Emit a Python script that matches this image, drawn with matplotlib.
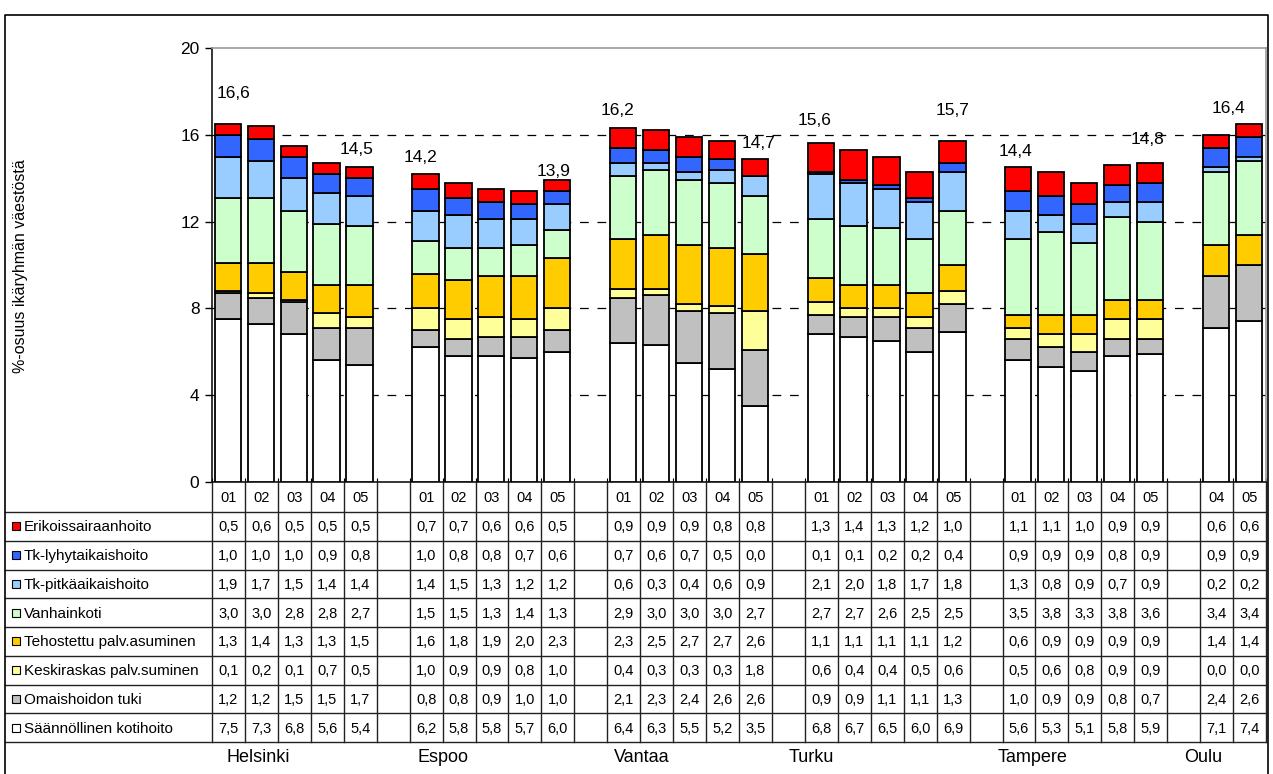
import matplotlib
matplotlib.use("Agg")
import matplotlib.pyplot as plt
from matplotlib.patches import Rectangle

plt.rcParams['font.family'] = ['Liberation Sans', 'DejaVu Sans']

# --- data -------------------------------------------------------------
cities = ["Helsinki", "Espoo", "Vantaa", "Turku", "Tampere", "Oulu"]
years = {
    "Helsinki": ["01", "02", "03", "04", "05"],
    "Espoo": ["01", "02", "03", "04", "05"],
    "Vantaa": ["01", "02", "03", "04", "05"],
    "Turku": ["01", "02", "03", "04", "05"],
    "Tampere": ["01", "02", "03", "04", "05"],
    "Oulu": ["04", "05"],
}

# series, top row of the table first
series_names = [
    "Erikoissairaanhoito",
    "Tk-lyhytaikaishoito",
    "Tk-pitkäaikaishoito",
    "Vanhainkoti",
    "Tehostettu palv.asuminen",
    "Keskiraskas palv.suminen",
    "Omaishoidon tuki",
    "Säännöllinen kotihoito",
]
series_colors = ["#FF0000", "#3366FF", "#99CCFF", "#CCFFCC",
                 "#FFCC00", "#FFFF99", "#C0C0C0", "#FFFFFF"]

erikois = {
    "Helsinki": [0.5, 0.6, 0.5, 0.5, 0.5],
    "Espoo": [0.7, 0.7, 0.6, 0.6, 0.5],
    "Vantaa": [0.9, 0.9, 0.9, 0.8, 0.8],
    "Turku": [1.3, 1.4, 1.3, 1.2, 1.0],
    "Tampere": [1.1, 1.1, 1.0, 0.9, 0.9],
    "Oulu": [0.6, 0.6],
}
tk_lyhyt = {
    "Helsinki": [1.0, 1.0, 1.0, 0.9, 0.8],
    "Espoo": [1.0, 0.8, 0.8, 0.7, 0.6],
    "Vantaa": [0.7, 0.6, 0.7, 0.5, 0.0],
    "Turku": [0.1, 0.1, 0.2, 0.2, 0.4],
    "Tampere": [0.9, 0.9, 0.9, 0.8, 0.9],
    "Oulu": [0.9, 0.9],
}
tk_pitka = {
    "Helsinki": [1.9, 1.7, 1.5, 1.4, 1.4],
    "Espoo": [1.4, 1.5, 1.3, 1.2, 1.2],
    "Vantaa": [0.6, 0.3, 0.4, 0.6, 0.9],
    "Turku": [2.1, 2.0, 1.8, 1.7, 1.8],
    "Tampere": [1.3, 0.8, 0.9, 0.7, 0.9],
    "Oulu": [0.2, 0.2],
}
vanhainkoti = {
    "Helsinki": [3.0, 3.0, 2.8, 2.8, 2.7],
    "Espoo": [1.5, 1.5, 1.3, 1.4, 1.3],
    "Vantaa": [2.9, 3.0, 3.0, 3.0, 2.7],
    "Turku": [2.7, 2.7, 2.6, 2.5, 2.5],
    "Tampere": [3.5, 3.8, 3.3, 3.8, 3.6],
    "Oulu": [3.4, 3.4],
}
tehostettu = {
    "Helsinki": [1.3, 1.4, 1.3, 1.3, 1.5],
    "Espoo": [1.6, 1.8, 1.9, 2.0, 2.3],
    "Vantaa": [2.3, 2.5, 2.7, 2.7, 2.6],
    "Turku": [1.1, 1.1, 1.1, 1.1, 1.2],
    "Tampere": [0.6, 0.9, 0.9, 0.9, 0.9],
    "Oulu": [1.4, 1.4],
}
keskiraskas = {
    "Helsinki": [0.1, 0.2, 0.1, 0.7, 0.5],
    "Espoo": [1.0, 0.9, 0.9, 0.8, 1.0],
    "Vantaa": [0.4, 0.3, 0.3, 0.3, 1.8],
    "Turku": [0.6, 0.4, 0.4, 0.5, 0.6],
    "Tampere": [0.5, 0.6, 0.8, 0.9, 0.9],
    "Oulu": [0.0, 0.0],
}
omaishoito = {
    "Helsinki": [1.2, 1.2, 1.5, 1.5, 1.7],
    "Espoo": [0.8, 0.8, 0.9, 1.0, 1.0],
    "Vantaa": [2.1, 2.3, 2.4, 2.6, 2.6],
    "Turku": [0.9, 0.9, 1.1, 1.1, 1.3],
    "Tampere": [1.0, 0.9, 0.9, 0.8, 0.7],
    "Oulu": [2.4, 2.6],
}
kotihoito = {
    "Helsinki": [7.5, 7.3, 6.8, 5.6, 5.4],
    "Espoo": [6.2, 5.8, 5.8, 5.7, 6.0],
    "Vantaa": [6.4, 6.3, 5.5, 5.2, 3.5],
    "Turku": [6.8, 6.7, 6.5, 6.0, 6.9],
    "Tampere": [5.6, 5.3, 5.1, 5.8, 5.9],
    "Oulu": [7.1, 7.4],
}
series_values = [erikois, tk_lyhyt, tk_pitka, vanhainkoti,
                 tehostettu, keskiraskas, omaishoito, kotihoito]

# total labels shown above some bars
total_labels = [
    ("Helsinki", "01", 16.6), ("Helsinki", "05", 14.5),
    ("Espoo", "01", 14.2), ("Espoo", "05", 13.9),
    ("Vantaa", "01", 16.2), ("Vantaa", "05", 14.7),
    ("Turku", "01", 15.6), ("Turku", "05", 15.7),
    ("Tampere", "01", 14.4), ("Tampere", "05", 14.8),
    ("Oulu", "05", 16.4),
]

ylabel = "%-osuus ikäryhmän väestöstä"
yticks = [0, 4, 8, 12, 16, 20]

# --- layout -----------------------------------------------------------
W, H = 1273, 774
fig = plt.figure(figsize=(W / 100, H / 100), dpi=100)

plot_l, plot_r, plot_t, plot_b = 212, 1266, 48, 482
frame_l, frame_t, frame_r = 5, 15, 1268
n_cols = 32
colw = (plot_r - plot_l) / n_cols

# nudges for the total labels (columns, value units) - how they sat in the original
label_dx = [0.17, -0.10, -0.15, -0.12, -0.18, 0.12, -0.18, 0.0, -0.09, -0.09, -0.61]
label_dy = [1.29, 0.80, 0.75, 0.43, 0.94, 0.92, 1.08, 1.44, 0.81, 0.98, 0.83]

# column index of every bar
col_pos = {}
c = 0
for city in cities:
    for y in years[city]:
        col_pos[(city, y)] = c
        c += 1
    c += 1  # empty column between cities

ax = fig.add_axes([plot_l / W, 1 - plot_b / H,
                   (plot_r - plot_l) / W, (plot_b - plot_t) / H])
ax.set_xlim(0, n_cols)
ax.set_ylim(0, 20)

bar_w = 0.8
bar_off = 0.48
for city in cities:
    for j, y in enumerate(years[city]):
        x = col_pos[(city, y)] + bar_off
        bottom = 0
        for vals, col in zip(series_values[::-1], series_colors[::-1]):
            v = vals[city][j]
            ax.bar(x, v, bottom=bottom, width=bar_w, color=col,
                   edgecolor="black", linewidth=1.3, zorder=3)
            bottom += v

for (city, y, val), dx, dy in zip(total_labels, label_dx, label_dy):
    ax.text(col_pos[(city, y)] + bar_off + dx, val + dy,
            f"{val:.1f}".replace(".", ","),
            ha="center", va="center", fontsize=12.5, zorder=4)

for g in yticks[1:-1]:
    ax.axhline(g, color="black", linewidth=0.9, linestyle=(0, (7, 7)), zorder=1)

ax.set_yticks(yticks)
ax.set_yticklabels([str(t) for t in yticks], fontsize=12.5)
ax.tick_params(axis="y", direction="out", length=5, width=1, pad=4)
ax.set_xticks([i for i in range(n_cols + 1)])
ax.set_xticklabels([])
ax.tick_params(axis="x", direction="in", length=3, width=0.8)
ax.spines["left"].set_linewidth(1.1)
ax.spines["bottom"].set_linewidth(1.1)
ax.spines["top"].set_color("#999999")
ax.spines["right"].set_color("#999999")
ax.spines["top"].set_linewidth(1.2)
ax.spines["right"].set_linewidth(1.2)

fig.text(21 / W, 1 - 266 / H, ylabel, rotation=90, ha="center", va="center",
         fontsize=11.5)

# --- data table -------------------------------------------------------
tab = fig.add_axes([0, 0, 1, 1])
tab.set_xlim(0, W)
tab.set_ylim(H, 0)
tab.axis("off")

head_b = 512
row_h = 28.75
tab_b = head_b + row_h * len(series_names)
lc = "#222222"

# horizontal lines
tab.plot([frame_l, plot_r], [head_b, head_b], color=lc, lw=1)
for k in range(1, len(series_names) + 1):
    yy = head_b + row_h * k
    tab.plot([frame_l, plot_r], [yy, yy], color=lc, lw=1)
# vertical lines
for i in range(n_cols + 1):
    xx = plot_l + i * colw
    tab.plot([xx, xx], [plot_b, tab_b], color=lc, lw=1)

# header
for (city, y), ci in col_pos.items():
    tab.text(plot_l + (ci + 0.5) * colw, (plot_b + head_b) / 2 + 1, y,
             ha="center", va="center", fontsize=10.5)

# rows
for k, (name, vals, col) in enumerate(zip(series_names, series_values, series_colors)):
    yc = head_b + row_h * (k + 0.5)
    tab.add_patch(Rectangle((12, yc - 4), 8, 8, facecolor=col,
                            edgecolor="black", linewidth=0.8))
    tab.text(24, yc + 1, name, ha="left", va="center", fontsize=11)
    for city in cities:
        for j, y in enumerate(years[city]):
            ci = col_pos[(city, y)]
            tab.text(plot_l + (ci + 0.5) * colw, yc + 1,
                     f"{vals[city][j]:.1f}".replace(".", ","),
                     ha="center", va="center", fontsize=10.5)

# city names under the table
city_label_x = [1.4, 7.0, 13.05, 18.2, 24.9, 30.1]
for city, cx in zip(cities, city_label_x):
    tab.text(plot_l + cx * colw, 757, city, ha="center", va="center", fontsize=13)

# outer frame
tab.plot([frame_l, frame_l, frame_r, frame_r], [H + 5, frame_t, frame_t, H + 5],
         color="black", lw=1.2)

fig.savefig("out.png", dpi=100)
